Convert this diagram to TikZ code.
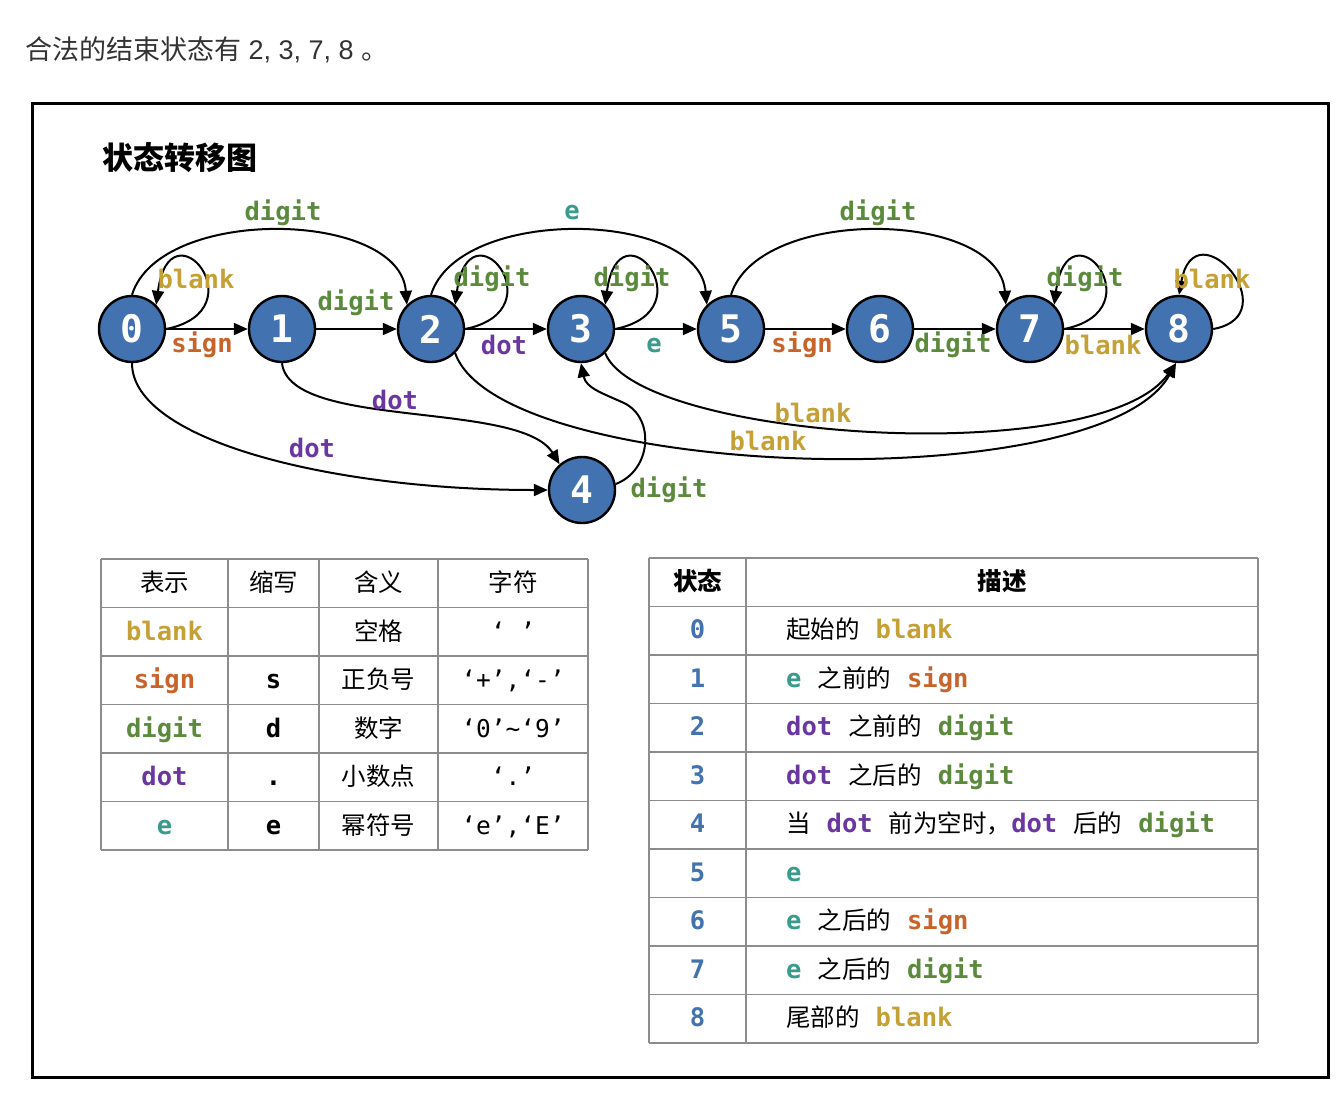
\documentclass[tikz,border=0pt]{standalone}
\usepackage{fontspec}
\setmainfont{Noto Sans CJK SC}
\setmonofont{DejaVu Sans Mono}
\newfontfamily\latinsans{Liberation Sans}
\usetikzlibrary{arrows.meta}
\definecolor{cBlank}{HTML}{C4A035}
\definecolor{cSign}{HTML}{C8642B}
\definecolor{cDigit}{HTML}{5B8A3D}
\definecolor{cDot}{HTML}{6A37A0}
\definecolor{cE}{HTML}{3A9A8B}
\definecolor{cNode}{HTML}{4272B0}
\definecolor{cGrid}{HTML}{8C8C8C}
\newcommand\kw[2]{{\color{#1}\fontsize{25.5}{28}\selectfont\ttfamily\bfseries #2}}
\newcommand\gap{\hspace{16pt}}
\tikzset{
  st/.style={circle, draw=black, line width=2.4pt, fill=cNode, minimum size=66pt, inner sep=0pt,
    text=white, font=\fontsize{38}{40}\selectfont\ttfamily\bfseries},
  arr/.style={draw=black, line width=2pt, -{Triangle[length=14pt,width=12pt]}},
  lbl/.style={inner sep=0pt, font=\fontsize{25.5}{30}\selectfont\ttfamily\bfseries},
  grid/.style={draw=cGrid, line width=1.6pt},
  cell/.style={inner sep=0pt, anchor=base, font=\fontsize{24.5}{28}\selectfont},
  cellw/.style={inner sep=0pt, anchor=base west, font=\fontsize{24.5}{28}\selectfont},
}
\begin{document}
\begin{tikzpicture}[x=1pt, y=-1pt]
\useasboundingbox[fill=white] (0,0) rectangle (1336,1098);

\node[anchor=west, inner sep=0pt, text=black!80, font=\fontsize{27}{30}\selectfont] (top) at (25,50) {合法的结束状态有{\latinsans\ 2, 3, 7, 8 }。};
\draw[line width=3pt] (32,103) rectangle (1328,1077);
\node[anchor=west, inner sep=0pt, font=\fontsize{31}{34}\selectfont\bfseries] (title) at (102,158) {状态转移图};

% states
\node[st] (n0) at (132,329) {0};
\node[st] (n1) at (282,329) {1};
\node[st] (n2) at (431,329) {2};
\node[st] (n3) at (581,329) {3};
\node[st] (n5) at (731,329) {5};
\node[st] (n6) at (880,329) {6};
\node[st] (n7) at (1030,329) {7};
\node[st] (n8) at (1179,329) {8};
\node[st] (n4) at (582,490) {4};

% straight edges
\draw[arr] (n0) -- (n1);
\draw[arr] (n1) -- (n2);
\draw[arr] (n2) -- (n3);
\draw[arr] (n3) -- (n5);
\draw[arr] (n5) -- (n6);
\draw[arr] (n6) -- (n7);
\draw[arr] (n7) -- (n8);

% self loops
\draw[arr] (n0.east) .. controls (260,310) and (170,200) .. (n0.45);
\draw[arr] (n2.east) .. controls (559,310) and (469,200) .. (n2.45);
\draw[arr] (n3.east) .. controls (709,310) and (619,200) .. (n3.45);
\draw[arr] (n7.east) .. controls (1158,310) and (1068,200) .. (n7.45);
\draw[arr] (n8.east) .. controls (1290,315) and (1195,205) .. (n8.north);

% upper arcs
\draw[arr] (n0.north) .. controls (160,205) and (400,210) .. (n2.north west);
\draw[arr] (n2.north) .. controls (459,205) and (699,210) .. (n5.north west);
\draw[arr] (n5.north) .. controls (759,205) and (999,210) .. (n7.north west);

% lower curves
\draw[arr] (n1.south) .. controls (290,430) and (520,400) .. (n4.131);
\draw[arr] (n0.south) .. controls (132,440) and (330,490) .. (n4.west);
\draw[arr] (n4.10) .. controls (652,470) and (655,418) .. (624,403) .. controls (602,393) and (586,388) .. (n3.south);
\draw[arr] (n2.-45) .. controls (500,480) and (1100,500) .. (n8.-95);
\draw[arr] (n3.-45) .. controls (640,440) and (1100,470) .. (n8.-95);

% edge labels
\node[lbl, text=cBlank] (l00) at (196,279) {blank};
\node[lbl, text=cSign]  (l01) at (202,345) {sign};
\node[lbl, text=cDigit] (l12) at (356,303) {digit};
\node[lbl, text=cDigit] (l02) at (283,213) {digit};
\node[lbl, text=cDigit] (l22) at (492,279) {digit};
\node[lbl, text=cDot]   (l23) at (504,345) {dot};
\node[lbl, text=cE]     (l25) at (572,213) {e};
\node[lbl, text=cDigit] (l33) at (632,279) {digit};
\node[lbl, text=cE]     (l35) at (654,346) {e};
\node[lbl, text=cSign]  (l56) at (802,345) {sign};
\node[lbl, text=cDigit] (l57) at (878,213) {digit};
\node[lbl, text=cDigit] (l67) at (953,345) {digit};
\node[lbl, text=cDigit] (l77) at (1085,279) {digit};
\node[lbl, text=cBlank] (l78) at (1103,345) {blank};
\node[lbl, text=cBlank] (l88) at (1212,279) {blank};
\node[lbl, text=cDot]   (l14) at (395,400) {dot};
\node[lbl, text=cDot]   (l04) at (312,448) {dot};
\node[lbl, text=cDigit] (l43) at (669,490) {digit};
\node[lbl, text=cBlank] (l38) at (813,413) {blank};
\node[lbl, text=cBlank] (l28) at (768,441) {blank};

% left table
\foreach \y in {559,607.5,656,704.5,753,801.5,850} \draw[grid] (101,\y) -- (588,\y);
\foreach \x in {101,228,319,438,588} \draw[grid] (\x,559) -- (\x,850);
\node[cell] (h1) at (164.5,591) {表示};
\node[cell] (h2) at (273.5,591) {缩写};
\node[cell] (h3) at (378.5,591) {含义};
\node[cell] (h4) at (513,591) {字符};

\node[cell] (a1) at (164.5,640) {\kw{cBlank}{blank}};
\node[cell] (c1) at (378.5,640) {空格};
\node[cell] (d1) at (513,640) {\ttfamily ‘ ’};

\node[cell] (a2) at (164.5,688.5) {\kw{cSign}{sign}};
\node[cell] (b2) at (273.5,688.5) {\kw{black}{s}};
\node[cell] (c2) at (378.5,688.5) {正负号};
\node[cell] (d2) at (513,688.5) {\ttfamily ‘+’,‘-’};

\node[cell] (a3) at (164.5,737) {\kw{cDigit}{digit}};
\node[cell] (b3) at (273.5,737) {\kw{black}{d}};
\node[cell] (c3) at (378.5,737) {数字};
\node[cell] (d3) at (513,737) {\ttfamily ‘0’\textasciitilde‘9’};

\node[cell] (a4) at (164.5,785.5) {\kw{cDot}{dot}};
\node[cell] (b4) at (273.5,785.5) {\kw{black}{.}};
\node[cell] (c4) at (378.5,785.5) {小数点};
\node[cell] (d4) at (513,785.5) {\ttfamily ‘.’};

\node[cell] (a5) at (164.5,834) {\kw{cE}{e}};
\node[cell] (b5) at (273.5,834) {\kw{black}{e}};
\node[cell] (c5) at (378.5,834) {幂符号};
\node[cell] (d5) at (513,834) {\ttfamily ‘e’,‘E’};

% right table
\foreach \k in {0,...,10} \draw[grid] (649,558+48.5*\k) -- (1258,558+48.5*\k);
\foreach \x in {649,746,1258} \draw[grid] (\x,558) -- (\x,1043);
\node[cell, font=\fontsize{24.5}{28}\selectfont\bfseries] (s0h) at (697.5,590) {状态};
\node[cell, font=\fontsize{24.5}{28}\selectfont\bfseries] (d0h) at (1002,590) {描述};

\foreach \i/\t in {0/0,1/1,2/2,3/3,4/4,5/5,6/6,7/7,8/8}
  \node[cell] (s\i) at (697.5,638.5+48.5*\i) {\kw{cNode}{\t}};

\node[cellw] (r0) at (786,638.5) {起始的\gap\kw{cBlank}{blank}};
\node[cellw] (r1) at (786,687) {\kw{cE}{e}\gap 之前的\gap\kw{cSign}{sign}};
\node[cellw] (r2) at (786,735.5) {\kw{cDot}{dot}\gap 之前的\gap\kw{cDigit}{digit}};
\node[cellw] (r3) at (786,784) {\kw{cDot}{dot}\gap 之后的\gap\kw{cDigit}{digit}};
\node[cellw] (r4) at (786,832.5) {当\gap\kw{cDot}{dot}\gap 前为空时，\kw{cDot}{dot}\gap 后的\gap\kw{cDigit}{digit}};
\node[cellw] (r5) at (786,881) {\kw{cE}{e}};
\node[cellw] (r6) at (786,929.5) {\kw{cE}{e}\gap 之后的\gap\kw{cSign}{sign}};
\node[cellw] (r7) at (786,978) {\kw{cE}{e}\gap 之后的\gap\kw{cDigit}{digit}};
\node[cellw] (r8) at (786,1026.5) {尾部的\gap\kw{cBlank}{blank}};
\end{tikzpicture}
\end{document}
